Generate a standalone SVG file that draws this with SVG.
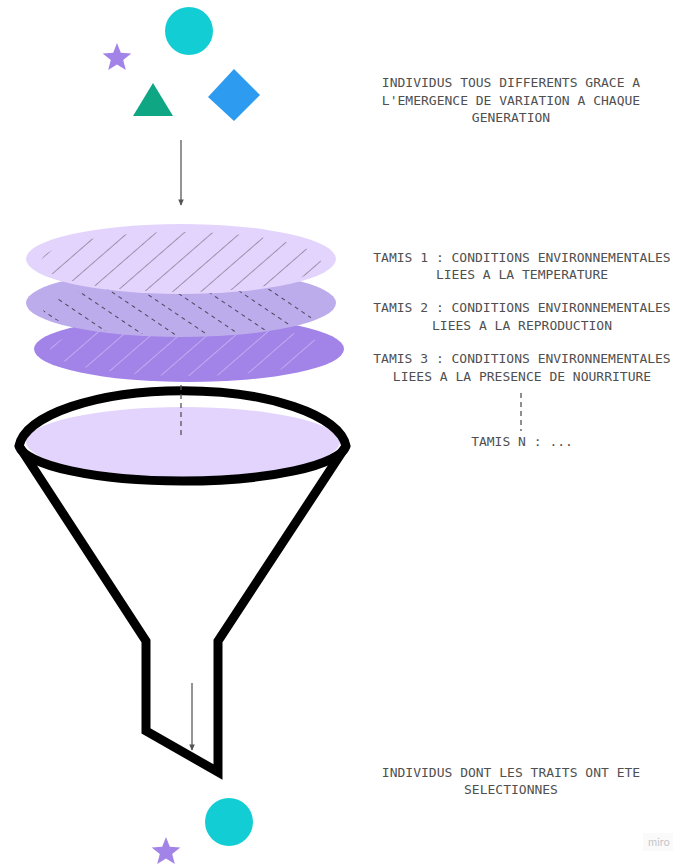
<svg xmlns="http://www.w3.org/2000/svg" width="673" height="865" viewBox="0 0 673 865">
  <style>
    .lbl { font-family: "DejaVu Sans Mono", "Liberation Mono", monospace; font-size: 13px; fill: #505050; text-anchor: middle; }
    .guide { stroke: #555; stroke-width: 1.3; fill: none; stroke-dasharray: 5 4; }
    .flow { stroke: #666; stroke-width: 1.4; fill: none; marker-end: url(#tip); }
    .funnel { fill: none; stroke: #000; stroke-width: 9; stroke-linejoin: miter; stroke-miterlimit: 10; }
  </style>
  <defs>
    <marker id="tip" viewBox="0 0 10 10" refX="8" refY="5" markerWidth="5" markerHeight="5" orient="auto">
      <path d="M0,1 L9,5 L0,9 Z" fill="#555"/>
    </marker>
    <path id="star" d="M0,-15 L3.8,-5.3 L14.3,-4.6 L6.2,2 L8.8,12.1 L0,6.5 L-8.8,12.1 L-6.2,2 L-14.3,-4.6 L-3.8,-5.3 Z"/>
    <!-- sieve hatchings -->
    <pattern id="hatch1" patternUnits="userSpaceOnUse" width="18.5" height="20" patternTransform="rotate(49)">
      <line x1="0" y1="0" x2="0" y2="20" stroke="#5f5a68" stroke-width="1.1"/>
    </pattern>
    <pattern id="hatch2" patternUnits="userSpaceOnUse" width="18" height="16" patternTransform="rotate(-56)">
      <line x1="0" y1="0" x2="0" y2="16" stroke="#3e3a48" stroke-width="1.8" stroke-dasharray="4 4"/>
    </pattern>
    <pattern id="hatch3" patternUnits="userSpaceOnUse" width="18.5" height="20" patternTransform="rotate(49)">
      <line x1="0" y1="0" x2="0" y2="20" stroke="#ffffff" stroke-opacity="0.45" stroke-width="1.4"/>
    </pattern>
  </defs>

  <!-- initial population -->
  <g id="population-top">
    <circle cx="189" cy="31" r="24" fill="#12cdd4"/>
    <use href="#star" x="117" y="58" fill="#a283e8"/>
    <polygon points="153,83 173,116 133,116" fill="#0fa684"/>
    <polygon points="234,69 260,95 234,121 208,97" fill="#2d9bf0"/>
  </g>

  <g id="label-top">
    <text class="lbl" x="511" y="87">INDIVIDUS TOUS DIFFERENTS GRACE A</text>
    <text class="lbl" x="511" y="105">L'EMERGENCE DE VARIATION A CHAQUE</text>
    <text class="lbl" x="511" y="122">GENERATION</text>
  </g>

  <!-- sieves, drawn bottom-up -->
  <g id="sieve-3">
    <ellipse cx="189" cy="349" rx="155" ry="33" fill="#a283e8"/>
    <ellipse cx="188" cy="350" rx="138" ry="26" fill="url(#hatch3)"/>
  </g>
  <g id="sieve-2">
    <ellipse cx="181" cy="303" rx="155" ry="34" fill="#bdacec"/>
    <ellipse cx="181" cy="309" rx="138" ry="26" fill="url(#hatch2)"/>
  </g>
  <g id="sieve-1">
    <ellipse cx="181" cy="259" rx="155" ry="35" fill="#e3d4fd"/>
    <ellipse cx="181" cy="262" rx="140" ry="30" fill="url(#hatch1)"/>
  </g>

  <g id="sieve-labels">
    <text class="lbl" x="522" y="262">TAMIS 1 : CONDITIONS ENVIRONNEMENTALES</text>
    <text class="lbl" x="522" y="279">LIEES A LA TEMPERATURE</text>
    <text class="lbl" x="522" y="312">TAMIS 2 : CONDITIONS ENVIRONNEMENTALES</text>
    <text class="lbl" x="522" y="330">LIEES A LA REPRODUCTION</text>
    <text class="lbl" x="522" y="363">TAMIS 3 : CONDITIONS ENVIRONNEMENTALES</text>
    <text class="lbl" x="522" y="381">LIEES A LA PRESENCE DE NOURRITURE</text>
    <text class="lbl" x="522" y="446">TAMIS N : ...</text>
  </g>

  <!-- funnel -->
  <g id="funnel">
    <ellipse cx="183" cy="442" rx="157" ry="35" fill="#e2d4fc"/>
    <path class="funnel" d="M19,446 A164,60 0 0 1 346,446 A164,38 0 0 1 19,446 Z"/>
    <path class="funnel" d="M19,446 L146,641 L146,731 L218,772 L218,641 L346,446"/>
  </g>

  <!-- connectors -->
  <g id="connectors">
    <line class="flow" x1="181" y1="140" x2="181" y2="205"/>
    <line class="guide" x1="181" y1="385" x2="181" y2="436"/>
    <line class="guide" x1="521" y1="393" x2="521" y2="431"/>
    <line class="flow" x1="192" y1="683" x2="192" y2="750"/>
  </g>

  <!-- selected population -->
  <g id="population-bottom">
    <circle cx="229" cy="822" r="24" fill="#12cdd4"/>
    <use href="#star" x="166" y="852" fill="#a283e8"/>
  </g>

  <g id="label-bottom">
    <text class="lbl" x="511" y="777">INDIVIDUS DONT LES TRAITS ONT ETE</text>
    <text class="lbl" x="511" y="794">SELECTIONNES</text>
  </g>

  <g id="watermark">
    <rect x="643" y="833" width="30" height="18" fill="#fafafa"/>
    <text x="659" y="846" font-family="Inter, 'Liberation Sans', sans-serif" font-size="10.5" fill="#c4c4c8" text-anchor="middle">miro</text>
  </g>
</svg>
